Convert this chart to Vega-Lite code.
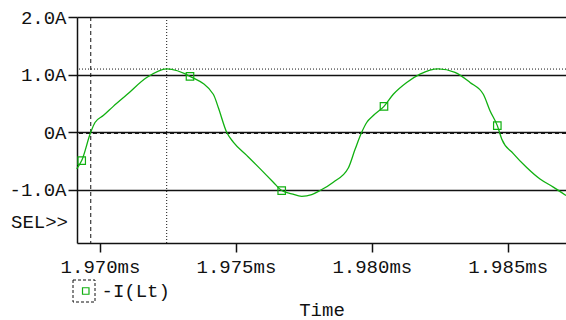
{
  "$schema": "https://vega.github.io/schema/vega-lite/v6.json",
  "width": 489,
  "height": 226,
  "autosize": {"type": "none"},
  "padding": {"left": 77, "top": 17, "right": 0, "bottom": 77},
  "background": "white",
  "config": {
    "view": {"stroke": null},
    "font": "'Liberation Mono', 'DejaVu Sans Mono', monospace",
    "axis": {
      "domainColor": "#111111",
      "domainWidth": 1.5,
      "tickColor": "#111111",
      "tickWidth": 1.5,
      "tickSize": 9,
      "labelFont": "'Liberation Mono', 'DejaVu Sans Mono', monospace",
      "labelFontSize": 19,
      "labelColor": "#111111",
      "titleFont": "'Liberation Mono', 'DejaVu Sans Mono', monospace",
      "titleFontSize": 19,
      "titleFontWeight": "normal",
      "titleColor": "#111111"
    }
  },
  "datasets": {
    "trace": [
      {"t": 1.969143, "i": -0.633},
      {"t": 1.969327, "i": -0.49},
      {"t": 1.969658, "i": 0.0},
      {"t": 1.969816, "i": 0.17},
      {"t": 1.970121, "i": 0.29},
      {"t": 1.970489, "i": 0.45},
      {"t": 1.970982, "i": 0.65},
      {"t": 1.971718, "i": 0.95},
      {"t": 1.972454, "i": 1.1},
      {"t": 1.973311, "i": 0.97},
      {"t": 1.974168, "i": 0.66},
      {"t": 1.974352, "i": 0.43},
      {"t": 1.974661, "i": 0.0},
      {"t": 1.974904, "i": -0.17},
      {"t": 1.975397, "i": -0.4},
      {"t": 1.975886, "i": -0.63},
      {"t": 1.976376, "i": -0.865},
      {"t": 1.976685, "i": -1.01},
      {"t": 1.977053, "i": -1.066},
      {"t": 1.977421, "i": -1.11},
      {"t": 1.977789, "i": -1.08},
      {"t": 1.978094, "i": -1.01},
      {"t": 1.978583, "i": -0.865},
      {"t": 1.979135, "i": -0.62},
      {"t": 1.979381, "i": -0.3},
      {"t": 1.979628, "i": 0.0},
      {"t": 1.979812, "i": 0.17},
      {"t": 1.980055, "i": 0.29},
      {"t": 1.980448, "i": 0.45},
      {"t": 1.980791, "i": 0.66},
      {"t": 1.981283, "i": 0.865},
      {"t": 1.981773, "i": 1.01},
      {"t": 1.982446, "i": 1.1},
      {"t": 1.98306, "i": 1.04},
      {"t": 1.983612, "i": 0.865},
      {"t": 1.984102, "i": 0.66},
      {"t": 1.984348, "i": 0.375},
      {"t": 1.984617, "i": 0.116},
      {"t": 1.984779, "i": -0.115},
      {"t": 1.985205, "i": -0.37},
      {"t": 1.985698, "i": -0.61},
      {"t": 1.986188, "i": -0.81},
      {"t": 1.986677, "i": -0.95},
      {"t": 1.987144, "i": -1.095}
    ],
    "symbols": [
      {"t": 1.969327, "i": -0.49},
      {"t": 1.973311, "i": 0.97},
      {"t": 1.976685, "i": -1.01},
      {"t": 1.980448, "i": 0.45},
      {"t": 1.984617, "i": 0.116}
    ],
    "cursors": [
      {"c1t": 1.96966, "c1i": -0.02, "c2t": 1.972454, "c2i": 1.097}
    ],
    "sel": [
      {"label": "SEL>>", "i": -1.55}
    ]
  },
  "layer": [
    {
      "data": {"name": "trace"},
      "mark": {"type": "line", "color": "#10b010", "strokeWidth": 1.3, "opacity": 0},
      "encoding": {
        "x": {
          "field": "t",
          "type": "quantitative",
          "scale": {"domain": [1.969154, 1.987144], "nice": false, "zero": false},
          "axis": {
            "values": [1.97, 1.975, 1.98, 1.985],
            "labelExpr": "format(datum.value, '.3f') + 'ms'",
            "labelPadding": 5,
            "grid": false,
            "title": "Time",
            "titlePadding": 24
          }
        },
        "y": {
          "field": "i",
          "type": "quantitative",
          "scale": {"domain": [-1.92, 2.0], "nice": false, "zero": false},
          "axis": {
            "values": [-1, 0, 1, 2],
            "labelExpr": "(datum.value < 0 ? '-' : '') + (datum.value == 0 ? '0' : format(abs(datum.value), '.1f')) + 'A'",
            "labelPadding": 2,
            "grid": true,
            "gridColor": "#111111",
            "gridWidth": 1.5,
            "gridOpacity": 1,
            "title": null
          }
        },
        "color": {
          "datum": "-I(Lt)",
          "scale": {"range": ["#10b010"]},
          "legend": {
            "title": null,
            "orient": "none",
            "legendX": -0.75,
            "legendY": 264.5,
            "padding": 0,
            "symbolType": "square",
            "symbolSize": 42,
            "symbolStrokeColor": "#10b010",
            "symbolFillColor": "transparent",
            "symbolStrokeWidth": 1.2,
            "symbolOpacity": 1,
            "labelFont": "'Liberation Mono', 'DejaVu Sans Mono', monospace",
            "labelFontSize": 19,
            "labelColor": "#111111",
            "labelOffset": 6.25
          }
        }
      }
    },
    {
      "data": {"name": "cursors"},
      "mark": {"type": "rule", "color": "#111111", "strokeWidth": 1, "strokeDash": [4, 3]},
      "encoding": {"x": {"field": "c1t", "type": "quantitative"}}
    },
    {
      "data": {"name": "cursors"},
      "mark": {"type": "rule", "color": "#111111", "strokeWidth": 1, "strokeDash": [4, 3]},
      "encoding": {"y": {"field": "c1i", "type": "quantitative"}}
    },
    {
      "data": {"name": "cursors"},
      "mark": {"type": "rule", "color": "#111111", "strokeWidth": 1, "strokeDash": [1, 2]},
      "encoding": {"x": {"field": "c2t", "type": "quantitative"}}
    },
    {
      "data": {"name": "cursors"},
      "mark": {"type": "rule", "color": "#111111", "strokeWidth": 1, "strokeDash": [1, 2]},
      "encoding": {"y": {"field": "c2i", "type": "quantitative"}}
    },
    {
      "data": {"name": "trace"},
      "mark": {"type": "line", "color": "#10b010", "strokeWidth": 1.3, "interpolate": "monotone"},
      "encoding": {
        "x": {"field": "t", "type": "quantitative"},
        "y": {"field": "i", "type": "quantitative"}
      }
    },
    {
      "data": {"name": "symbols"},
      "mark": {"type": "point", "filled": false, "color": "#10b010", "size": 56, "strokeWidth": 1.2, "opacity": 1},
      "encoding": {
        "x": {"field": "t", "type": "quantitative"},
        "y": {"field": "i", "type": "quantitative"},
        "shape": {
          "datum": "box",
          "scale": {"range": ["square"]},
          "legend": {
            "title": null,
            "orient": "none",
            "legendX": -4.5,
            "legendY": 262.5,
            "padding": 0,
            "symbolType": "square",
            "symbolSize": 484,
            "symbolStrokeColor": "#111111",
            "symbolStrokeWidth": 1,
            "symbolDash": [3, 2],
            "symbolFillColor": "transparent",
            "labelExpr": "''"
          }
        }
      }
    },
    {
      "data": {"name": "sel"},
      "mark": {"type": "text", "align": "right", "baseline": "middle", "dx": -9, "font": "'Liberation Mono', 'DejaVu Sans Mono', monospace", "fontSize": 19, "color": "#111111"},
      "encoding": {
        "x": {"datum": 1.969154},
        "y": {"field": "i", "type": "quantitative"},
        "text": {"field": "label"}
      }
    }
  ]
}
